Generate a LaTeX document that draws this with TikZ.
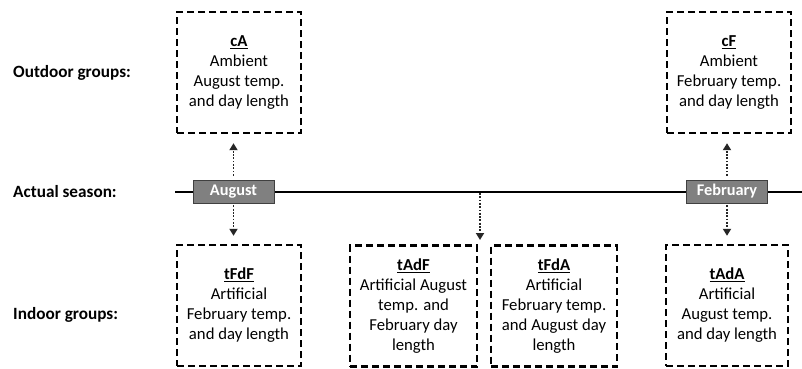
\documentclass[tikz,border=0pt]{standalone}
\usepackage{fontspec}
\setmainfont{Carlito}
\usetikzlibrary{arrows.meta}
\tikzset{
  grp/.style={draw=black, line width=2.4pt, dash pattern=on 7pt off 4pt, minimum width=124pt, minimum height=121pt, align=center, font=\fontsize{16.7}{20}\selectfont, inner sep=2pt},
  month/.style={draw=black!75, fill=black!50, line width=0.8pt, minimum width=81pt, minimum height=23pt, inner sep=0pt, font=\fontsize{16.3}{18}\selectfont\bfseries, text=white},
  rowlabel/.style={anchor=west, inner sep=0pt, font=\fontsize{17.2}{18}\selectfont\bfseries},
  conn/.style={draw=black!85, line width=1.8pt, dash pattern=on 1.8pt off 1.5pt, -{Triangle[width=8pt,length=7pt]}},
}
\begin{document}
\begin{tikzpicture}[x=1pt,y=-1pt]
\useasboundingbox (0,0) rectangle (802,368);
% timeline
\coordinate (tl0) at (175,192);
\coordinate (tl1) at (802,192);
\draw[line width=2pt] (tl0) -- (tl1);
% row labels
\node[rowlabel] (lo) at (13,73) {Outdoor groups:};
\node[rowlabel] (ls) at (13,192) {Actual season:};
\node[rowlabel] (li) at (13,315) {Indoor groups:};
% months
\node[month] (aug) at (233.5,191.5) {August};
\node[month] (feb) at (727,191.5) {February};
% boxes
\node[grp] (cA) at (239,72.5) {\underline{\textbf{cA}}\\Ambient\\August temp.\\and day length};
\node[grp] (cF) at (729,72.5) {\underline{\textbf{cF}}\\Ambient\\February temp.\\and day length};
\node[grp, minimum width=124pt] (tFdF) at (239,305.5) {\underline{\textbf{tFdF}}\\Artificial\\February temp.\\and day length};
\node[grp, minimum width=127pt] (tAdF) at (413.5,306) {\underline{\textbf{tAdF}}\\Artificial August\\temp. and\\February day\\length};
\node[grp, minimum width=126pt] (tFdA) at (554,306) {\underline{\textbf{tFdA}}\\Artificial\\February temp.\\and August day\\length};
\node[grp, minimum width=122pt] (tAdA) at (727,305.5) {\underline{\textbf{tAdA}}\\Artificial\\August temp.\\and day length};
% connectors
\draw[conn, shorten <=4pt, shorten >=9pt] (aug.north) -- (aug.north |- cA.south);
\draw[conn, shorten <=2pt, shorten >=8pt] (aug.south) -- (aug.south |- tFdF.north);
\draw[conn, shorten <=4pt, shorten >=9pt] (feb.north) -- (feb.north |- cF.south);
\draw[conn, shorten <=2pt, shorten >=8pt] (feb.south) -- (feb.south |- tAdA.north);
\coordinate (mid) at (480,193);
\coordinate (midend) at (480,240);
\draw[conn] (mid) -- (midend);
\end{tikzpicture}
\end{document}
